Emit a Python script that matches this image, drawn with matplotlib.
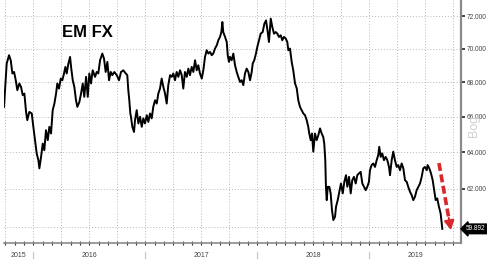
import matplotlib
matplotlib.use("Agg")
import matplotlib.pyplot as plt
import matplotlib.transforms as mtransforms
import numpy as np

plt.rcParams['font.family'] = ['Liberation Sans', 'DejaVu Sans']

# ---- data (decimal year, index level) ----
t = [2015.738, 2015.747, 2015.762, 2015.783, 2015.798, 2015.813, 2015.828, 2015.843, 2015.857, 2015.875,
     2015.890, 2015.905, 2015.920, 2015.935, 2015.946, 2015.964, 2015.986, 2016.000, 2016.015, 2016.030,
     2016.045, 2016.054, 2016.069, 2016.084, 2016.098, 2016.113, 2016.129, 2016.143, 2016.158, 2016.173,
     2016.188, 2016.203, 2016.214, 2016.229, 2016.245, 2016.259, 2016.274, 2016.286, 2016.298, 2016.313,
     2016.328, 2016.337, 2016.352, 2016.366, 2016.381, 2016.393, 2016.411, 2016.426, 2016.441, 2016.455,
     2016.471, 2016.486, 2016.500, 2016.515, 2016.530, 2016.551, 2016.566, 2016.580, 2016.596, 2016.616,
     2016.631, 2016.646, 2016.661, 2016.676, 2016.691, 2016.705, 2016.723, 2016.745, 2016.765, 2016.783,
     2016.804, 2016.825, 2016.839, 2016.848, 2016.857, 2016.866, 2016.872, 2016.884, 2016.899, 2016.908,
     2016.923, 2016.938, 2016.953, 2016.968, 2016.982, 2016.997, 2017.013, 2017.027, 2017.042, 2017.057,
     2017.071, 2017.087, 2017.102, 2017.116, 2017.131, 2017.146, 2017.161, 2017.176, 2017.191, 2017.205,
     2017.221, 2017.236, 2017.250, 2017.265, 2017.280, 2017.295, 2017.310, 2017.325, 2017.339, 2017.354,
     2017.370, 2017.384, 2017.399, 2017.414, 2017.429, 2017.444, 2017.459, 2017.473, 2017.488, 2017.504,
     2017.518, 2017.533, 2017.548, 2017.563, 2017.578, 2017.593, 2017.607, 2017.622, 2017.638, 2017.652,
     2017.667, 2017.679, 2017.688, 2017.696, 2017.712, 2017.727, 2017.736, 2017.747, 2017.756, 2017.771,
     2017.786, 2017.801, 2017.816, 2017.830, 2017.846, 2017.861, 2017.875, 2017.890, 2017.905, 2017.920,
     2017.935, 2017.950, 2017.959, 2017.973, 2017.988, 2018.000, 2018.015, 2018.030, 2018.048, 2018.063,
     2018.078, 2018.093, 2018.104, 2018.120, 2018.134, 2018.149, 2018.164, 2018.179, 2018.194, 2018.209,
     2018.223, 2018.238, 2018.254, 2018.268, 2018.277, 2018.292, 2018.307, 2018.321, 2018.337, 2018.352,
     2018.366, 2018.381, 2018.396, 2018.411, 2018.426, 2018.441, 2018.455, 2018.464, 2018.477, 2018.488,
     2018.500, 2018.515, 2018.530, 2018.545, 2018.560, 2018.575, 2018.589, 2018.598, 2018.607, 2018.613,
     2018.620, 2018.629, 2018.643, 2018.655, 2018.667, 2018.679, 2018.694, 2018.703, 2018.718, 2018.732,
     2018.747, 2018.763, 2018.777, 2018.792, 2018.804, 2018.819, 2018.834, 2018.848, 2018.863, 2018.879,
     2018.893, 2018.908, 2018.923, 2018.938, 2018.953, 2018.968, 2018.982, 2018.997, 2019.006, 2019.021,
     2019.036, 2019.051, 2019.066, 2019.080, 2019.089, 2019.102, 2019.116, 2019.131, 2019.146, 2019.161,
     2019.176, 2019.185, 2019.200, 2019.214, 2019.229, 2019.245, 2019.259, 2019.274, 2019.289, 2019.304,
     2019.319, 2019.334, 2019.348, 2019.364, 2019.379, 2019.393, 2019.408, 2019.423, 2019.438, 2019.453,
     2019.468, 2019.482, 2019.497, 2019.513, 2019.521, 2019.536, 2019.551, 2019.566, 2019.580, 2019.593,
     2019.607, 2019.622, 2019.637, 2019.652]

em_fx = [66.56, 67.53, 69.10, 69.60, 69.30, 68.51, 68.60, 68.11, 67.53, 67.92,
         67.72, 67.24, 67.33, 66.27, 65.80, 66.27, 66.18, 65.42, 64.67, 63.93,
         63.56, 63.11, 63.74, 64.48, 64.11, 65.23, 64.67, 65.42, 65.04, 66.37,
         66.75, 67.33, 67.92, 67.62, 68.21, 68.11, 68.51, 68.90, 68.51, 69.10,
         69.50, 68.90, 68.11, 67.72, 66.94, 66.56, 66.84, 67.33, 67.92, 67.14,
         68.31, 67.14, 68.51, 67.92, 68.70, 68.31, 68.60, 68.51, 69.30, 69.70,
         69.40, 68.60, 69.20, 68.11, 68.60, 68.41, 68.60, 68.41, 68.11, 68.60,
         68.70, 68.51, 68.41, 67.53, 66.94, 66.18, 65.99, 65.42, 65.13, 65.80,
         66.37, 65.61, 65.99, 65.42, 65.90, 65.61, 66.08, 65.70, 66.18, 65.90,
         66.56, 66.94, 66.75, 67.33, 67.62, 68.21, 67.72, 67.33, 66.75, 67.82,
         68.41, 68.31, 68.51, 68.11, 68.60, 68.31, 68.70, 68.41, 67.62, 68.60,
         68.31, 68.80, 68.41, 68.90, 68.60, 69.30, 68.70, 69.00, 68.51, 68.21,
         68.70, 69.50, 69.90, 69.70, 69.80, 69.60, 69.70, 70.00, 70.20, 70.51,
         70.71, 71.01, 71.63, 71.01, 70.71, 70.40, 69.60, 69.20, 69.50, 69.30,
         69.70, 69.00, 68.60, 68.31, 68.01, 68.11, 67.82, 68.51, 68.80, 68.60,
         68.11, 68.60, 69.10, 69.30, 69.70, 70.10, 70.51, 70.91, 71.01, 71.52,
         71.73, 71.01, 70.40, 71.84, 71.32, 70.91, 71.01, 70.91, 70.71, 70.81,
         70.51, 70.71, 70.61, 70.40, 69.90, 70.00, 69.20, 68.70, 67.92, 67.64,
         66.94, 66.56, 66.37, 66.18, 66.08, 65.80, 65.42, 65.04, 64.67, 65.04,
         64.03, 65.04, 64.67, 64.95, 65.33, 65.04, 64.85, 64.48, 63.56, 62.11,
         61.40, 62.11, 62.11, 61.76, 60.87, 60.35, 60.52, 61.05, 61.40, 61.84,
         62.29, 61.76, 62.38, 62.74, 62.11, 62.65, 61.76, 62.47, 62.65, 62.29,
         62.74, 62.84, 62.92, 62.29, 62.11, 61.93, 62.11, 62.38, 63.01, 63.29,
         63.38, 63.19, 63.56, 63.84, 64.30, 63.74, 63.93, 63.56, 63.74, 63.56,
         63.19, 62.74, 63.56, 64.03, 63.56, 63.19, 63.29, 63.01, 63.38, 63.11,
         62.47, 62.38, 62.11, 61.84, 61.66, 61.40, 61.58, 61.93, 62.11, 62.29,
         62.65, 63.11, 63.19, 63.01, 63.29, 63.11, 62.84, 62.47, 61.93, 61.40,
         61.49, 61.05, 60.70, 59.892]

y_ticks = [60, 62, 64, 66, 68, 70, 72]
y_tick_labels = ["60.000", "62.000", "64.000", "66.000", "68.000", "70.000", "72.000"]
years = [2015, 2016, 2017, 2018, 2019]
title = "EM FX"
last_label = "59.892"
arrow_start = (2019.622, 63.40)
arrow_end = (2019.729, 59.83)

X_MIN, X_MAX = 2015.738, 2019.819
Y_MIN, Y_MAX = 59.18, 72.99

# ---- figure ----
fig = plt.figure(figsize=(4.87, 2.60), dpi=100)
ax = fig.add_axes([4/487, 1 - 242.7/260, 457/487, 242.7/260 - 0.001])
ax.set_yscale('log')
ax.set_xlim(X_MIN, X_MAX)
ax.set_ylim(Y_MIN, Y_MAX)

# grid
for q in np.arange(2015.75, 2019.76, 0.25):
    ax.axvline(q, color='#b8b8b8', lw=0.7, ls=(0, (1, 2)), zorder=0)
for yv in y_ticks:
    ax.axhline(yv, color='#b8b8b8', lw=0.7, ls=(0, (1, 2)), zorder=0)

ax.plot(t, em_fx, color='black', lw=1.4, zorder=3, solid_joinstyle='round')

# y axis on right
ax.yaxis.tick_right()
ax.yaxis.set_major_locator(matplotlib.ticker.FixedLocator(y_ticks))
ax.yaxis.set_minor_locator(matplotlib.ticker.NullLocator())
ax.set_yticklabels(y_tick_labels)
ax.tick_params(axis='y', which='major', direction='out', length=3, width=1.2,
               color='#222222', labelsize=4.7, labelcolor='#444444', pad=0.8)

# x axis: monthly small ticks, no labels
ax.xaxis.set_major_locator(matplotlib.ticker.FixedLocator(np.arange(2015.75, 2019.82, 1/12)))
ax.xaxis.set_minor_locator(matplotlib.ticker.NullLocator())
ax.set_xticklabels([])
ax.tick_params(axis='x', which='major', direction='inout', length=2.5, width=0.8, color='#333333')

for side in ['top', 'left']:
    ax.spines[side].set_visible(False)
ax.spines['right'].set_color('#8a8a8a')
ax.spines['right'].set_linewidth(1.6)
ax.spines['bottom'].set_color('#8a8a8a')
ax.spines['bottom'].set_linewidth(1.2)

# year separators and labels
trans = mtransforms.blended_transform_factory(ax.transData, ax.transAxes)
for yr in years:
    if X_MIN < yr < X_MAX:
        ax.plot([yr, yr], [-0.037, -0.063], transform=trans, color='#c8c8c8', lw=0.9, clip_on=False)
    lo = max(yr, X_MIN)
    hi = min(yr + 1, X_MAX)
    ax.text((lo + hi) / 2, -0.052, str(yr), transform=trans, ha='center', va='center',
            fontsize=5.0, color='#444444')

# title
ax.text(0.182, 0.865, title, transform=ax.transAxes, ha='center', va='center',
        fontsize=12, fontweight='bold', color='black')

# last value tag (x in axes coords, y in data coords)
ax.annotate(last_label, xy=(1.0, em_fx[-1]), xycoords=ax.get_yaxis_transform(),
            xytext=(3.6, 0), textcoords='offset points', ha='left', va='center',
            fontsize=4.7, color='white',
            bbox=dict(boxstyle='larrow,pad=0.2', fc='black', ec='black'),
            annotation_clip=False)

# faint watermark
ax.text(1.028, 0.48, "Bog", transform=ax.transAxes, rotation=90, ha='center', va='center',
        fontsize=9, color='#d0d0d0', clip_on=False)

# red dashed arrow
frac = 0.82
mid = (arrow_start[0] + frac * (arrow_end[0] - arrow_start[0]),
       arrow_start[1] * (arrow_end[1] / arrow_start[1]) ** frac)
ax.plot([arrow_start[0], mid[0]], [arrow_start[1], mid[1]], color='#d8282a', lw=2.6,
        ls=(0, (2.2, 1.0)), zorder=4, solid_capstyle='butt', dash_capstyle='butt')
ax.annotate('', xy=arrow_end, xytext=mid,
            arrowprops=dict(arrowstyle='-|>,head_length=0.55,head_width=0.3', color='#d8282a',
                            lw=1.5, shrinkA=0, shrinkB=0, mutation_scale=10), zorder=4)

fig.savefig('out.png', dpi=100)
